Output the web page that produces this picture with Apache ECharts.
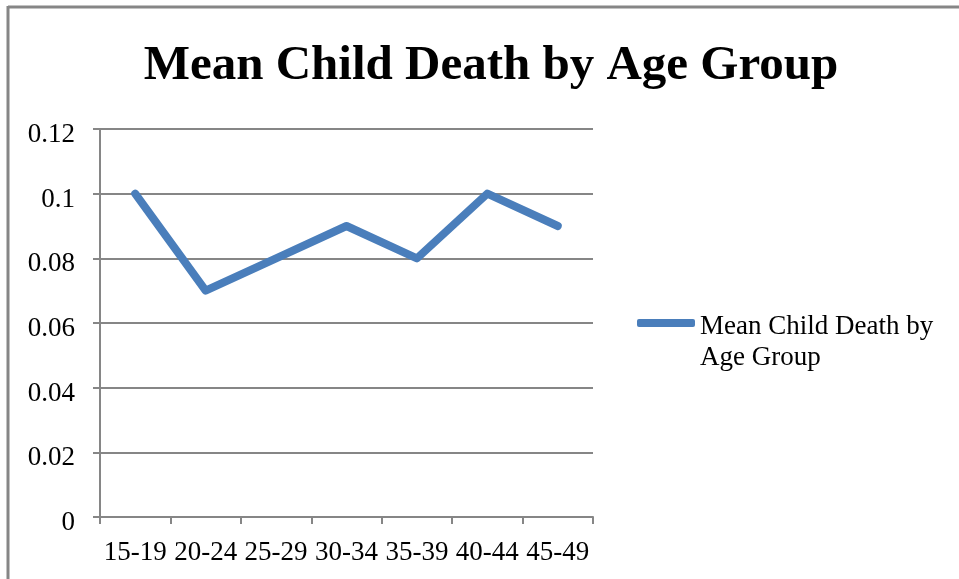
<!DOCTYPE html>
<html>
<head>
<meta charset="utf-8">
<title>Mean Child Death by Age Group</title>
<script src="https://cdn.jsdelivr.net/npm/echarts@6/dist/echarts.min.js"></script>
<style>
  html, body { margin: 0; padding: 0; background: #fff; }
  #chart { width: 959px; height: 579px; }
</style>
</head>
<body>
<div id="chart"></div>
<script>
// Age groups along the x axis
const ageGroups = ['15-19', '20-24', '25-29', '30-34', '35-39', '40-44', '45-49'];
// Mean number of child deaths per age group
const meanChildDeath = [0.10, 0.07, 0.08, 0.09, 0.08, 0.10, 0.09];
// Value axis range and step
const yMin = 0;
const yMax = 0.12;
const yStep = 0.02;

const seriesName = 'Mean Child Death by Age Group';
const serif = '"Liberation Serif", "DejaVu Serif", serif';
const gray = '#868686';
const blue = '#4a7ebb';

const chart = echarts.init(document.getElementById('chart'), null, { renderer: 'canvas' });

chart.setOption({
  backgroundColor: '#ffffff',
  animation: false,
  title: {
    text: seriesName,
    left: 486,
    textAlign: 'center',
    top: 37,
    textStyle: { fontFamily: serif, fontWeight: 'bold', fontSize: 49, color: '#000' }
  },
  grid: { left: 100, right: 366, top: 129, bottom: 62, containLabel: false },
  legend: {
    data: [seriesName],
    orient: 'vertical',
    left: 637,
    top: 290,
    padding: 0,
    icon: 'roundRect',
    itemWidth: 58,
    itemHeight: 8,
    // a spacer line keeps the icon level with the first text line
    formatter: () => '{gap| }\n{txt|Mean Child Death by}\n{txt|Age Group}',
    textStyle: {
      fontFamily: serif, fontSize: 27, color: '#000',
      rich: {
        gap: { fontSize: 4, lineHeight: 39 },
        txt: { fontFamily: serif, fontSize: 27, lineHeight: 31, color: '#000' }
      }
    }
  },
  xAxis: {
    type: 'category',
    data: ageGroups,
    boundaryGap: true,
    axisLine: { lineStyle: { color: gray, width: 2 } },
    axisTick: { show: true, length: 7, lineStyle: { color: gray, width: 2 } },
    axisLabel: { margin: 22, color: '#000', fontFamily: serif, fontSize: 27, interval: 0 },
    splitLine: { show: false }
  },
  yAxis: {
    type: 'value',
    min: yMin,
    max: yMax,
    interval: yStep,
    axisLine: { show: true, lineStyle: { color: gray, width: 2 } },
    axisTick: { show: true, length: 7, lineStyle: { color: gray, width: 2 } },
    axisLabel: {
      margin: 25, color: '#000', fontFamily: serif, fontSize: 27,
      // small spacer line sets each label slightly below its tick
      formatter: v => '{gap| }\n{v|' + String(Math.round(v * 100) / 100) + '}',
      rich: {
        gap: { fontSize: 4, lineHeight: 12 },
        v: { fontFamily: serif, fontSize: 27, lineHeight: 27, color: '#000' }
      }
    },
    splitLine: { show: true, lineStyle: { color: gray, width: 2 } }
  },
  series: [{
    name: seriesName,
    type: 'line',
    data: meanChildDeath,
    showSymbol: false,
    symbol: 'none',
    lineStyle: { color: blue, width: 8, cap: 'round', join: 'round' },
    itemStyle: { color: blue }
  }],
  graphic: [
    // frame edges along the top and left of the chart area
    { type: 'line', shape: { x1: 8, y1: 7, x2: 959, y2: 7 }, style: { stroke: gray, lineWidth: 3 } },
    { type: 'line', shape: { x1: 8, y1: 6, x2: 8, y2: 579 }, style: { stroke: gray, lineWidth: 3 } }
  ]
});
</script>
</body>
</html>
